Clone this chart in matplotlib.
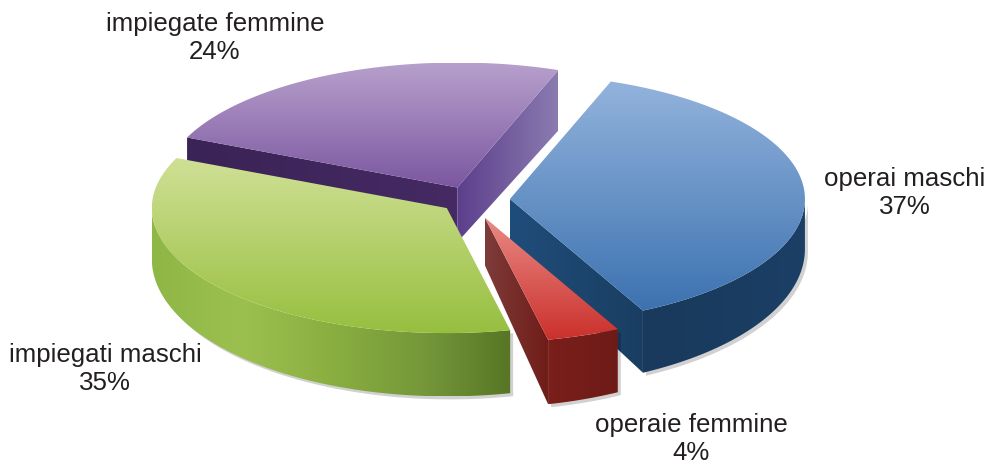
import numpy as np
import matplotlib
matplotlib.use("Agg")
import matplotlib.pyplot as plt
from matplotlib.colors import LinearSegmentedColormap
from matplotlib.patches import Polygon

plt.rcParams['font.family'] = ['Liberation Sans', 'DejaVu Sans']

labels = ["operai maschi", "operaie femmine", "impiegati maschi", "impiegate femmine"]
values = [37, 4, 35, 24]
explode = [40, 44, 30, 32]
label_pos = [(905, 193), (691, 439), (105, 369), (215, 38)]

top_colors = [["#93b3dc", "#3c72b0"], ["#e98a86", "#cb302b"],
              ["#d0e096", "#97bf3f"], ["#b7a0cc", "#7b57a0"]]
arc_colors = [["#193a5c", "#1a3c60", "#1c3f66"], ["#7a1f1b", "#6e1b17"],
              ["#8fb746", "#9cc050", "#8aaf40", "#76983a", "#587626"], ["#555555", "#555555"]]
end_wall_colors = [["#1f4d7a", "#1a3e62"], ["#7d3c3a", "#701c18"],
                   None, ["#5c3f8c", "#8b7bb0"]]
start_wall_colors = [None, None, None, ["#3a2356", "#452a63"]]
# wall height at y=200 and how fast it grows toward the front
depth_base = [50, 45, 50, 54]
depth_slope = [0.11, 0.14, 0.10, -0.05]
draw_order = [3, 0, 1, 2]

cx, cy = 470, 200
a, b = 295, 125
start_angle = 70


def pt(x0, y0, t):
    t = np.radians(t)
    return np.column_stack([x0 + a*np.cos(t), y0 - b*np.sin(t)])


def grad_fill(ax, xy, colors, vertical, z):
    cmap = LinearSegmentedColormap.from_list("g", colors)
    x0, x1 = xy[:, 0].min(), xy[:, 0].max()
    y0, y1 = xy[:, 1].min(), xy[:, 1].max()
    g = np.linspace(0, 1, 256)
    g = g.reshape(-1, 1) if vertical else g.reshape(1, -1)
    im = ax.imshow(g, cmap=cmap, extent=(x0, x1, y1, y0), aspect="auto",
                   zorder=z, interpolation="bilinear")
    clip = Polygon(xy, closed=True, transform=ax.transData)
    im.set_clip_path(clip)


fig = plt.figure(figsize=(9.96, 4.68), dpi=100)
ax = fig.add_axes([0, 0, 1, 1])

angles = start_angle - np.cumsum([0] + values) * 3.6
z = 2
for i in draw_order:
    t0, t1 = angles[i], angles[i+1]
    mid = np.radians((t0 + t1) / 2)
    x0 = cx + explode[i]*np.cos(mid)
    y0 = cy - explode[i]*np.sin(mid)*b/a
    dep = lambda y: depth_base[i] + depth_slope[i]*(y - 200)

    arc = pt(x0, y0, np.linspace(t0, t1, 200))
    apex = np.array([[x0, y0]])

    # radial side walls
    for wall, t in ((start_wall_colors[i], t0), (end_wall_colors[i], t1)):
        if wall is None:
            continue
        c = pt(x0, y0, np.array([t]))
        quad = np.vstack([apex, c, c + [0, dep(c[0, 1])], apex + [0, dep(y0)]])
        grad_fill(ax, quad, wall, False, z)
        z += 1

    # rim, only the part facing the viewer
    tt = np.linspace(t0, t1, 200)
    front = arc[np.sin(np.radians(tt)) <= 0]
    if len(front) > 1:
        lower = front + np.column_stack([np.zeros(len(front)),
                                         dep(front[:, 1])])
        shadow = np.vstack([front + [3, 3], (lower + [3, 3])[::-1]])
        ax.add_patch(Polygon(shadow, closed=True, fc="#000000", alpha=0.18,
                             ec="none", zorder=z))
        z += 1
        rim = np.vstack([front, lower[::-1]])
        colors = arc_colors[i]
        grad_fill(ax, rim, colors, False, z)
        z += 1

    # top face
    top = np.vstack([apex, arc])
    grad_fill(ax, top, top_colors[i], True, z)
    z += 1

for lab, val, (x, y) in zip(labels, values, label_pos):
    ax.text(x, y, f"{lab}\n{val}%", ha="center", va="center", fontsize=18.6,
            color="#231f20", linespacing=1.17, zorder=z + 1)

ax.set_xlim(0, 996)
ax.set_ylim(468, 0)
ax.axis("off")
fig.savefig("out.png", dpi=100)
